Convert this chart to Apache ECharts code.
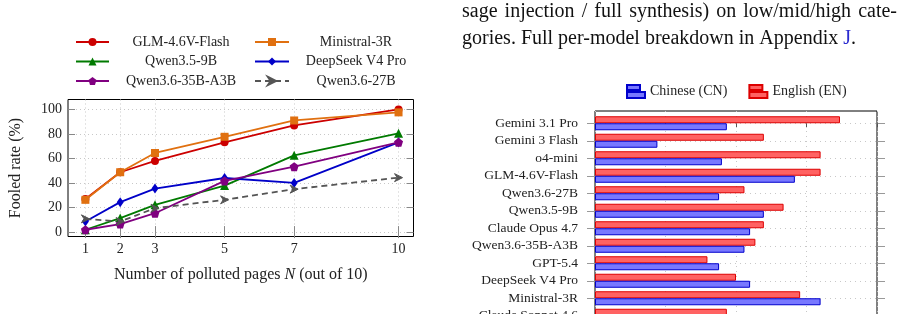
<!DOCTYPE html>
<html>
<head>
<meta charset="utf-8">
<script src="https://cdn.jsdelivr.net/npm/echarts@6/dist/echarts.min.js"></script>
<style>
  html, body { margin: 0; padding: 0; background: #fff; overflow: hidden; }
  #main { width: 906px; height: 314px; }
</style>
</head>
<body>
<div id="main"></div>
<script>
// left chart: fooled rate vs number of polluted pages
var pages = [1, 2, 3, 5, 7, 10];
var glmFlash = [27, 48.8, 58, 73.2, 87, 100];
var ministral = [26.3, 48.8, 64.5, 77.7, 91, 97.6];
var qwen35 = [1.9, 11.4, 22.2, 37.9, 62.6, 80.5];
var deepseek = [8.6, 24.4, 35.5, 44.1, 40.1, 73.2];
var qwen36a3b = [1.9, 6.5, 15.4, 41.7, 53.3, 73.2];
var qwen27 = [10.8, 8.6, 19.5, 26.3, 35.0, 44.4];
var rateTicks = [0, 20, 40, 60, 80, 100];

// right chart: per-model rate by language
var models = ['Gemini 3.1 Pro', 'Gemini 3 Flash', 'o4-mini', 'GLM-4.6V-Flash', 'Qwen3.6-27B',
  'Qwen3.5-9B', 'Claude Opus 4.7', 'Qwen3.6-35B-A3B', 'GPT-5.4', 'DeepSeek V4 Pro',
  'Ministral-3R', 'Claude Sonnet 4.6'];
var enRate = [69.5, 47.9, 64.0, 64.0, 42.4, 53.5, 47.9, 45.5, 31.9, 40.0, 58.2, 37.4];
var cnRate = [37.4, 17.7, 36.0, 56.7, 35.2, 47.9, 44.0, 42.4, 35.2, 44.0, 64.0, 30.0];

var serif = '"Liberation Serif", "DejaVu Serif", serif';
var txt = '#222';

function pairs(ys) {
  return pages.map(function (x, i) { return [x, ys[i]]; });
}

function lineSeries(name, ys, color, symbol, size, dashed) {
  return {
    name: name,
    type: 'line',
    xAxisIndex: 0,
    yAxisIndex: 0,
    data: pairs(ys),
    symbol: symbol,
    symbolSize: size,
    lineStyle: { color: color, width: 1.8, type: dashed ? [6, 4] : 'solid' },
    itemStyle: { color: color, borderColor: color, borderWidth: dashed ? 1 : 0 },
    z: 3
  };
}

var pentagon = 'path://M5,0 L10,3.6 L8.1,9.5 L1.9,9.5 L0,3.6 Z';
var arrow = 'path://M3,0 L9,4 L3,8 L5,4 Z';
var barIcon = 'path://M0,0H13V5H0Z M0,7H18V13H0Z';

var idx12 = models.map(function (m, i) { return i; });

// justified first line of the paragraph
var paraFont = '20px ' + serif;
var line1 = 'sage injection / full synthesis) on low/mid/high cate-'.split(' ');
var ctx = document.createElement('canvas').getContext('2d');
ctx.font = paraFont;
var wordW = line1.map(function (w) { return ctx.measureText(w).width; });
var totalW = wordW.reduce(function (a, b) { return a + b; }, 0);
var space = (897 - 462 - totalW) / (line1.length - 1);
var paraTexts = [];
var px = 462;
line1.forEach(function (w, i) {
  paraTexts.push({ type: 'text', x: px, y: 12, style: { text: w, font: paraFont, fill: '#111', verticalAlign: 'middle' } });
  px += wordW[i] + space;
});
paraTexts.push({
  type: 'text', x: 462, y: 39,
  style: {
    text: 'gories. Full per-model breakdown in Appendix {j|J}.',
    font: paraFont, fill: '#111', verticalAlign: 'middle',
    rich: { j: { fill: '#2b2bd0', font: paraFont } }
  }
});

var chart = echarts.init(document.getElementById('main'));
chart.setOption({
  animation: false,
  textStyle: { fontFamily: serif },
  graphic: paraTexts,
  legend: [
    {
      left: 75, top: 35, orient: 'vertical', itemGap: 5.5, padding: 0,
      itemWidth: 33, itemHeight: 10,
      data: ['GLM-4.6V-Flash', 'Qwen3.5-9B', 'Qwen3.6-35B-A3B'],
      formatter: function (n) { return '{c|' + n + '}'; },
      textStyle: { rich: { c: { width: 134, align: 'center', fontSize: 14, lineHeight: 14, color: txt, fontFamily: serif } } }
    },
    {
      left: 254, top: 35, orient: 'vertical', itemGap: 5.5, padding: 0,
      itemWidth: 34, itemHeight: 10,
      data: ['Ministral-3R', 'DeepSeek V4 Pro', 'Qwen3.6-27B'],
      formatter: function (n) { return '{c|' + n + '}'; },
      textStyle: { rich: { c: { width: 124, align: 'center', fontSize: 14, lineHeight: 14, color: txt, fontFamily: serif } } }
    },
    {
      left: 626, top: 84, orient: 'horizontal', itemGap: 21, padding: 0,
      itemWidth: 18, itemHeight: 13, itemTextGap: 4, icon: barIcon,
      data: ['Chinese (CN)', 'English (EN)'],
      textStyle: { fontSize: 14, color: txt, fontFamily: serif }
    }
  ],
  grid: [
    { left: 68, right: 492.5, top: 99.5, bottom: 77.5, show: true, borderColor: '#000', borderWidth: 1, outerBoundsMode: 'none' },
    { left: 595, right: 29, top: 114.5, height: 210, outerBoundsMode: 'none' },
    { left: 595, right: 29, top: 111, height: 227.5, show: true, borderColor: '#000', borderWidth: 1, outerBoundsMode: 'none' }
  ],
  xAxis: [
    {
      gridIndex: 0, type: 'value', min: 0.5, max: 10.43, position: 'bottom',
      axisLine: { show: false },
      axisTick: { inside: true, length: 6, lineStyle: { color: '#888' }, customValues: pages },
      axisLabel: { customValues: pages, fontSize: 14, color: txt, margin: 6, fontFamily: serif },
      splitLine: { show: true, lineStyle: { color: '#c8c8c8', type: [1, 3] } },
      name: 'Number of polluted pages {i|N} (out of 10)', nameLocation: 'middle', nameGap: 30,
      nameTextStyle: { fontSize: 16, color: txt, fontFamily: serif, rich: { i: { fontStyle: 'italic', fontSize: 16, fontFamily: serif } } }
    },
    {
      gridIndex: 0, type: 'value', min: 0.5, max: 10.43, position: 'top',
      axisLine: { show: false },
      axisTick: { inside: true, length: 6, lineStyle: { color: '#888' }, customValues: pages },
      axisLabel: { show: false }, splitLine: { show: false }
    },
    {
      gridIndex: 1, type: 'value', min: 0, max: 80, show: false
    },
    {
      gridIndex: 2, type: 'value', min: 0, max: 80, interval: 20, position: 'top',
      axisLine: { show: false },
      axisTick: { inside: true, length: 4, lineStyle: { color: '#555' } },
      axisLabel: { show: false },
      splitLine: { show: true, lineStyle: { color: '#c8c8c8', type: [1, 4] } }
    }
  ],
  yAxis: [
    {
      gridIndex: 0, type: 'value', min: -3.6, max: 108.1, position: 'left',
      axisLine: { show: false },
      axisTick: { inside: true, length: 7, lineStyle: { color: '#888' }, customValues: rateTicks },
      axisLabel: { customValues: rateTicks, fontSize: 14, color: txt, margin: 6, fontFamily: serif },
      splitLine: { show: true, lineStyle: { color: '#c8c8c8', type: [1, 3] } },
      name: 'Fooled rate (%)', nameLocation: 'middle', nameGap: 44,
      nameTextStyle: { fontSize: 16, color: txt, fontFamily: serif }
    },
    {
      gridIndex: 0, type: 'value', min: -3.6, max: 108.1, position: 'right',
      axisLine: { show: false },
      axisTick: { inside: true, length: 7, lineStyle: { color: '#888' }, customValues: rateTicks },
      axisLabel: { show: false }, splitLine: { show: false }
    },
    {
      gridIndex: 1, type: 'category', inverse: true, data: models,
      axisLine: { show: false }, axisTick: { show: false },
      axisLabel: { interval: 0, fontSize: 13.5, color: txt, margin: 17, fontFamily: serif },
      splitLine: { show: false }
    },
    {
      gridIndex: 2, type: 'value', inverse: true, min: -0.7, max: 12.3, position: 'left',
      axisLine: { show: false },
      axisTick: { inside: false, length: 8, lineStyle: { color: '#999' }, customValues: idx12 },
      axisLabel: { show: false },
      splitLine: { show: true, lineStyle: { color: '#c8c8c8', type: [1, 4] } }
    },
    {
      gridIndex: 2, type: 'value', inverse: true, min: -0.7, max: 12.3, position: 'right',
      axisLine: { show: false },
      axisTick: { inside: false, length: 8, lineStyle: { color: '#999' }, customValues: idx12 },
      axisLabel: { show: false }, splitLine: { show: false }
    }
  ],
  series: [
    lineSeries('GLM-4.6V-Flash', glmFlash, '#cc0000', 'circle', 8),
    lineSeries('Ministral-3R', ministral, '#e07010', 'rect', 8),
    lineSeries('Qwen3.5-9B', qwen35, '#007a00', 'triangle', 9),
    lineSeries('DeepSeek V4 Pro', deepseek, '#0000c8', 'diamond', [7, 10]),
    lineSeries('Qwen3.6-35B-A3B', qwen36a3b, '#800080', pentagon, 9),
    lineSeries('Qwen3.6-27B', qwen27, '#555555', arrow, 8, true),
    {
      name: 'English (EN)', type: 'bar', xAxisIndex: 2, yAxisIndex: 2,
      data: enRate, barWidth: 7, barGap: '0%',
      itemStyle: { color: '#ff6262', borderColor: '#dd0000', borderWidth: 1 }
    },
    {
      name: 'Chinese (CN)', type: 'bar', xAxisIndex: 2, yAxisIndex: 2,
      data: cnRate, barWidth: 7, barGap: '0%',
      itemStyle: { color: '#7878ff', borderColor: '#0000cc', borderWidth: 1 }
    }
  ]
});
</script>
</body>
</html>
